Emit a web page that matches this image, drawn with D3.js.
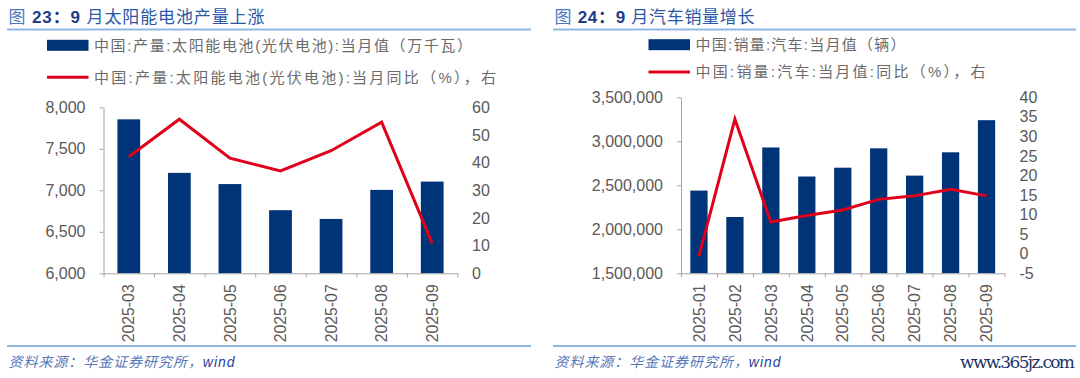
<!DOCTYPE html>
<html><head><meta charset="utf-8">
<script src="https://cdn.jsdelivr.net/npm/d3@7"></script>
<style>
html,body{margin:0;padding:0;background:#fff;}
svg{display:block;}
</style></head>
<body>
<svg id="c" width="1080" height="378"></svg>
<script>
// ---- data ----
const solarMonths = ["2025-03","2025-04","2025-05","2025-06","2025-07","2025-08","2025-09"];
const solarOutput = [7855, 7210, 7075, 6760, 6655, 7005, 7105];
const solarYoY = [42.1, 55.7, 41.6, 37.0, 44.3, 54.6, 10.8];
const solarLeftTicks = [6000, 6500, 7000, 7500, 8000];
const solarRightTicks = [0, 10, 20, 30, 40, 50, 60];

const autoMonths = ["2025-01","2025-02","2025-03","2025-04","2025-05","2025-06","2025-07","2025-08","2025-09"];
const autoSales = [2440000, 2140000, 2930000, 2600000, 2700000, 2920000, 2610000, 2875000, 3240000];
const autoYoY = [-0.6, 34.4, 8.1, 9.8, 11.2, 13.9, 14.8, 16.5, 14.8];
const autoLeftTicks = [1500000, 2000000, 2500000, 3000000, 3500000];
const autoRightTicks = [-5, 0, 5, 10, 15, 20, 25, 30, 35, 40];

const BAR = "#003478", LINE = "#e0001b", AXIS = "#a6a6a6", LBL = "#595959", LEG = "#6b6b6b";
const RULE = "#8fb8e2";
const FONT = "'Liberation Sans', Arial, 'Noto Sans CJK SC', sans-serif";

const svg = d3.select("#c");
svg.append("rect").attr("width",1080).attr("height",378).attr("fill","#fff");

function fit(sel, target){
  const node = sel.node();
  sel.attr("letter-spacing", 0);
  const w = node.getComputedTextLength();
  const n = node.textContent.length;
  sel.attr("letter-spacing", ((target - w) / (n - 1)).toFixed(3));
}

function panel(cfg){
  const g = svg.append("g").style("font-family", FONT);
  // title
  const t = g.append("text").attr("x", cfg.titleX).attr("y", 23).attr("font-size", 17)
    .style("font-family", "'Liberation Sans','Noto Sans CJK SC',sans-serif");
  t.append("tspan").text("图 ").attr("fill", "#4a78c2");
  t.append("tspan").text(cfg.num + "：9 ").attr("fill", "#1f3c88").attr("font-weight", "bold");
  t.append("tspan").text(cfg.title).attr("fill", "#2b57a6");
  fit(t, cfg.titleW);
  // rules
  g.append("line").attr("x1", cfg.ruleX0).attr("x2", cfg.ruleX1).attr("y1", 29.5).attr("y2", 29.5)
    .attr("stroke", RULE).attr("stroke-width", 2);
  g.append("line").attr("x1", cfg.ruleX0).attr("x2", cfg.ruleX1).attr("y1", 346).attr("y2", 346)
    .attr("stroke", RULE).attr("stroke-width", 2);
  // legend
  g.append("rect").attr("x", cfg.legX).attr("y", cfg.leg1Y - 5.5).attr("width", 41.5).attr("height", 11).attr("fill", BAR);
  g.append("line").attr("x1", cfg.legX).attr("x2", cfg.legX + 41.5).attr("y1", cfg.leg2Y).attr("y2", cfg.leg2Y)
    .attr("stroke", LINE).attr("stroke-width", 3);
  const l1 = g.append("text").attr("x", cfg.legX + 47).attr("y", cfg.leg1Y).attr("dy", "0.36em")
    .attr("font-size", 15).attr("fill", LEG).text(cfg.leg1);
  fit(l1, cfg.leg1W);
  const l2 = g.append("text").attr("x", cfg.legX + 47).attr("y", cfg.leg2Y).attr("dy", "0.36em")
    .attr("font-size", 15).attr("fill", LEG).text(cfg.leg2);
  fit(l2, cfg.leg2W);

  // scales
  const x = d3.scaleBand().domain(cfg.cats).range([cfg.x0, cfg.x1]).paddingInner(cfg.pad).paddingOuter(cfg.pad / 2);
  const yL = d3.scaleLinear().domain(d3.extent(cfg.lt)).range([cfg.yB, cfg.yT]);
  const yR = d3.scaleLinear().domain(d3.extent(cfg.rt)).range([cfg.yB, cfg.yT]);

  // bars
  g.append("g").selectAll("rect").data(cfg.bars).join("rect")
    .attr("x", (d, i) => x(cfg.cats[i])).attr("width", x.bandwidth())
    .attr("y", d => yL(d)).attr("height", d => yL(cfg.lt[0]) - yL(d)).attr("fill", BAR);

  // left axis
  const ax = g.append("g").attr("transform", `translate(${cfg.x0},0)`)
    .call(d3.axisLeft(yL).tickValues(cfg.lt).tickFormat(d3.format(",")).tickSize(4).tickSizeOuter(0).tickPadding(14));
  ax.select(".domain").attr("stroke", AXIS);
  ax.selectAll(".tick line").attr("stroke", AXIS);
  ax.selectAll("text").attr("fill", LBL).attr("font-size", 16).style("font-family", FONT);

  // right axis (labels only)
  const ar = g.append("g").attr("transform", `translate(${cfg.x1},0)`)
    .call(d3.axisRight(yR).tickValues(cfg.rt).tickFormat(d => String(d)).tickSize(0).tickPadding(cfg.rPad));
  ar.select(".domain").remove();
  ar.selectAll("text").attr("fill", LBL).attr("font-size", 16).style("font-family", FONT);

  // x axis line + boundary ticks
  const xb = d3.scaleLinear().domain([0, cfg.cats.length]).range([cfg.x0, cfg.x1]);
  const axb = g.append("g").attr("transform", `translate(0,${cfg.yB})`)
    .call(d3.axisBottom(xb).tickValues(d3.range(cfg.cats.length + 1)).tickFormat("").tickSize(4).tickSizeOuter(0));
  axb.select(".domain").attr("stroke", AXIS);
  axb.selectAll(".tick line").attr("stroke", AXIS);

  // x labels (rotated)
  g.append("g").selectAll("text").data(cfg.cats).join("text")
    .attr("transform", d => `translate(${x(d) + x.bandwidth() / 2},${cfg.yB + 11}) rotate(-90)`)
    .attr("text-anchor", "end").attr("dy", "0.36em").attr("font-size", 15.8).attr("fill", LBL)
    .text(d => d);

  // line
  const line = d3.line().x((d, i) => x(cfg.cats[i]) + x.bandwidth() / 2).y(d => yR(d));
  g.append("path").datum(cfg.lineVals).attr("d", line).attr("fill", "none")
    .attr("stroke", LINE).attr("stroke-width", 3).attr("stroke-linejoin", "miter");

  // footer
  const f = g.append("text").attr("x", cfg.titleX).attr("y", 367).attr("font-size", 14)
    .style("font-style", "italic");
  f.append("tspan").text("资料来源：华金证券研究所，").attr("fill", "#5676b8")
    .style("font-family", "'Noto Sans CJK SC',sans-serif");
  f.append("tspan").text("wind").attr("fill", "#1f3f99");
  fit(f, cfg.footW);
  return g;
}

panel({
  num: "23", title: "月太阳能电池产量上涨", titleX: 8.5, titleW: 256,
  ruleX0: 7, ruleX1: 531,
  legX: 47, leg1Y: 45.3, leg2Y: 77.3,
  leg1: "中国:产量:太阳能电池(光伏电池):当月值（万千瓦）", leg1W: 378,
  leg2: "中国:产量:太阳能电池(光伏电池):当月同比（%），右", leg2W: 402,
  cats: solarMonths, bars: solarOutput, lineVals: solarYoY,
  lt: solarLeftTicks, rt: solarRightTicks,
  x0: 103.5, x1: 457.5, yT: 107.3, yB: 273.3, pad: 0.55, rPad: 14.5,
  footW: 226
});

panel({
  num: "24", title: "月汽车销量增长", titleX: 554.5, titleW: 200,
  ruleX0: 553, ruleX1: 1076,
  legX: 648.5, leg1Y: 44.7, leg2Y: 72,
  leg1: "中国:销量:汽车:当月值（辆）", leg1W: 210,
  leg2: "中国:销量:汽车:当月值:同比（%），右", leg2W: 290,
  cats: autoMonths, bars: autoSales, lineVals: autoYoY,
  lt: autoLeftTicks, rt: autoRightTicks,
  x0: 681, x1: 1004.5, yT: 97.3, yB: 273.3, pad: 0.52, rPad: 15,
  footW: 226
});

// watermark
const wm = svg.append("text").attr("x", 960).attr("y", 368).attr("font-size", 17)
  .style("font-family", "'DejaVu Serif','Liberation Serif',serif").attr("fill", "#1b3166").text("www.365jz.com");
fit(wm, 115);
</script>
</body></html>
